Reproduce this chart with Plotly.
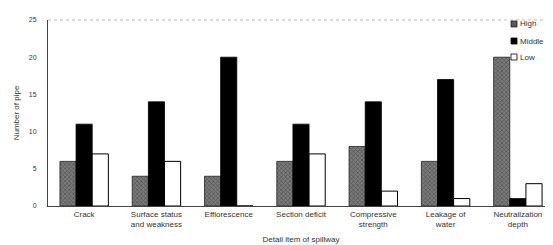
import plotly.graph_objects as go

categories = ["Crack", "Surface status<br>and weakness", "Efflorescence", "Section deficit",
              "Compressive<br>strength", "Leakage of<br>water", "Neutralization<br>depth"]
high = [6, 4, 4, 6, 8, 6, 20]
middle = [11, 14, 20, 11, 14, 17, 1]
low = [7, 6, 0, 7, 2, 1, 3]
y_ticks = [0, 5, 10, 15, 20, 25]
series_names = ["High", "Middle", "Low"]

high_marker = dict(color="#5a5a5a", line=dict(color="#222", width=0.8),
                   pattern=dict(shape="x", fgcolor="#2a2a2a", bgcolor="#7a7a7a", size=3, solidity=0.4))
mid_marker = dict(color="#000000", line=dict(color="#000", width=0.8))
low_marker = dict(color="#ffffff", line=dict(color="#000", width=1))

fig = go.Figure()
for name, vals, mk in zip(series_names, [high, middle, low], [high_marker, mid_marker, low_marker]):
    fig.add_trace(go.Bar(name=name, x=categories, y=vals, marker=mk, showlegend=False))

W, H = 553, 245
L, R, T, B = 40, 7, 12, 47
fig.update_layout(
    width=W, height=H,
    margin=dict(l=L, r=R, t=T, b=B),
    paper_bgcolor="white", plot_bgcolor="white",
    barmode="group", bargap=0.33, bargroupgap=0,
    font=dict(family="Arial, Liberation Sans, sans-serif", size=8, color="#333"),
    xaxis=dict(showline=True, linecolor="#444", linewidth=1, ticks="", tickfont=dict(size=8),
               title=dict(text="Detail item of spillway", font=dict(size=8), standoff=8)),
    yaxis=dict(range=[0, 25], tickvals=y_ticks, showgrid=False, showline=True, linecolor="#444",
               linewidth=1, ticks="", zeroline=False, tickfont=dict(size=7), ticklabelstandoff=9,
               title=dict(text="Number of pipe", font=dict(size=8), standoff=8)),
)
fig.add_shape(type="line", xref="paper", yref="paper", x0=0, x1=1, y0=1, y1=1,
              line=dict(color="#aaa", width=0.8, dash="dot"))
fig.add_shape(type="line", xref="paper", yref="paper", x0=1, x1=1, y0=0, y1=1,
              line=dict(color="#aaa", width=0.8, dash="dot"))

# compact legend drawn inside the plot area
pw, ph = W - L - R, H - T - B
legend_y_px = [16, 33, 49]
fills = [("#5a5a5a", "#222"), ("#000000", "#000"), ("#ffffff", "#000")]
for name, ypx, (fc, lc) in zip(series_names, legend_y_px, fills):
    x0 = (503 - L) / pw
    x1 = (509 - L) / pw
    yc = (H - B - ypx) / ph
    dy = 3 / ph
    fig.add_shape(type="rect", xref="paper", yref="paper", x0=x0, x1=x1, y0=yc - dy, y1=yc + dy,
                  fillcolor=fc, line=dict(color=lc, width=0.8))
    fig.add_annotation(text=name, xref="paper", yref="paper", x=(510 - L) / pw, y=yc,
                       xanchor="left", yanchor="middle", showarrow=False, font=dict(size=8, color="#333"))
fig.write_html("out.html")
